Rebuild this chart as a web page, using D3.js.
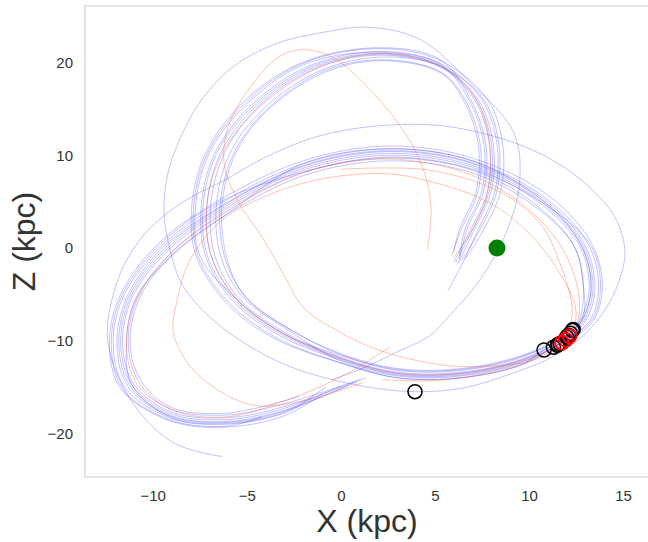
<!DOCTYPE html>
<html>
<head>
<meta charset="utf-8">
<script src="https://cdn.jsdelivr.net/npm/d3@7"></script>
<style>
  html, body { margin: 0; padding: 0; background: #ffffff; }
  svg { display: block; }
  text { font-family: "Liberation Sans", Arial, Helvetica, sans-serif; }
</style>
</head>
<body>
<svg id="chart" width="648" height="542"></svg>
<script>
// ---------------- data (kpc) ----------------
const xTicks = [-10, -5, 0, 5, 10, 15];
const zTicks = [-20, -10, 0, 10, 20];
const xLabel = "X (kpc)";
const zLabel = "Z (kpc)";

// blue orbits: each is a list of [X, Z] points
const blueOrbit1 = [[0.0,-14.9],[-3.0,-17.3],[-6.0,-18.5],[-9.0,-17.9],[-11.1,-14.8],[-11.7,-10.4],[-11.2,-5.4],[-9.3,-0.2],[-6.2,4.4],[-2.0,8.6],[2.5,10.2],[7.0,8.9],[10.7,4.9],[12.8,0.2],[13.3,-4.4],[12.8,-7.9],[12.0,-9.6],[9.6,-12.1],[6.4,-13.5],[3.0,-13.5],[0.0,-11.9],[-3.0,-9.3],[-5.5,-5.6],[-6.9,-0.8],[-7.1,5.0],[-6.3,10.6],[-4.3,15.7],[-1.3,19.6],[2.2,20.9],[5.3,19.6],[7.2,16.0],[8.0,11.2],[7.9,6.2],[7.0,2.0],[6.1,-1.6]];
const blueOrbit2 = [[-1.5,-16.2],[-3.0,-17.8],[-6.0,-19.0],[-9.0,-18.4],[-11.5,-15.0],[-12.1,-10.4],[-11.6,-5.4],[-9.6,0.1],[-6.4,4.8],[-2.0,9.1],[2.5,10.7],[7.0,9.4],[11.0,5.2],[13.2,0.2],[13.7,-4.4],[13.2,-7.9],[11.5,-10.5],[9.6,-12.4],[6.4,-13.8],[3.0,-13.8],[0.0,-12.2],[-2.7,-9.0],[-5.2,-5.3],[-6.4,-0.8],[-6.6,5.0],[-5.8,10.6],[-3.9,15.4],[-1.0,19.2],[2.2,20.6],[5.3,19.6],[7.6,16.0],[8.4,11.2],[8.3,6.2],[7.4,2.0],[6.4,-1.4]];
const blueOrbit3 = [[1.0,-14.2],[-3.0,-16.8],[-6.0,-18.0],[-9.0,-17.4],[-10.7,-14.6],[-11.3,-10.4],[-10.8,-5.4],[-9.0,-0.5],[-6.0,4.0],[-2.0,8.1],[2.5,9.7],[7.0,8.4],[10.4,4.6],[12.4,0.2],[12.9,-4.4],[12.7,-7.6],[12.3,-8.9],[9.6,-11.8],[6.4,-13.2],[3.0,-13.2],[0.0,-11.6],[-3.0,-9.3],[-5.5,-5.6],[-7.5,-0.8],[-7.7,5.0],[-6.9,10.6],[-4.7,16.1],[-1.7,20.0],[2.2,21.1],[5.3,19.8],[6.8,16.0],[7.6,11.2],[7.5,6.2],[6.6,2.0],[6.3,-0.8]];
const blueOrbit4 = [[-4.2,-18.2],[-6.0,-19.2],[-9.0,-18.6],[-11.6,-15.2],[-12.2,-10.4],[-11.7,-5.4],[-9.7,0.2],[-6.5,4.9],[-2.0,8.2],[2.5,9.8],[7.0,8.5],[10.7,4.9],[13.3,0.2],[13.8,-4.4],[13.3,-7.9],[11.3,-10.7],[9.6,-12.6],[6.4,-14.0],[3.0,-14.0],[0.0,-12.4],[-3.4,-9.7],[-5.9,-6.0],[-7.6,-0.8],[-7.8,5.0],[-7.0,10.6],[-4.8,16.2],[-1.8,20.1],[2.2,21.5],[5.3,20.2],[7.8,16.0],[8.6,11.2],[8.5,6.2],[7.6,2.0],[6.6,-1.2]];
const blueOrbit5 = [[0.8,-14.4],[-3.0,-17.1],[-6.0,-18.3],[-9.0,-17.7],[-11.0,-14.7],[-11.6,-10.4],[-11.1,-5.4],[-9.2,-0.3],[-6.1,4.3],[-2.0,8.4],[2.5,10.0],[7.0,8.7],[10.6,4.8],[12.7,0.2],[13.2,-4.4],[12.7,-7.9],[12.1,-9.4],[9.6,-12.0],[6.4,-13.4],[3.0,-13.4],[0.0,-11.8],[-2.9,-9.2],[-5.4,-5.5],[-6.7,-0.8],[-6.9,5.0],[-6.1,10.6],[-4.2,15.6],[-1.2,19.5],[2.2,20.8],[5.3,19.5],[7.1,16.0],[7.9,11.2],[7.8,6.2],[6.9,2.0],[6.0,-1.5]];
const blueOrbit6 = [[-1.0,-15.8],[-3.0,-18.1],[-6.0,-19.3],[-9.0,-18.7],[-11.7,-15.2],[-12.3,-10.4],[-11.8,-5.4],[-9.8,0.3],[-6.6,5.0],[-2.0,9.4],[2.5,11.0],[7.0,9.7],[11.2,5.4],[13.4,0.2],[13.9,-4.4],[13.4,-7.9],[12.4,-9.6],[10.8,-11.0],[9.6,-12.6],[6.4,-14.0],[3.0,-14.0],[0.0,-12.4],[-3.5,-9.8],[-6.0,-6.1],[-7.7,-0.8],[-7.9,5.0],[-7.1,10.6],[-4.9,16.3],[-1.8,20.2],[2.2,21.6],[5.3,20.3],[6.9,16.0],[7.7,11.2],[7.6,6.2],[6.7,2.0],[6.3,-1.2]];
const blueOrbit7 = [[0.4,-14.8],[-3.0,-17.5],[-6.0,-18.7],[-9.0,-18.1],[-11.2,-14.9],[-11.8,-10.4],[-11.3,-5.4],[-9.4,-0.1],[-6.3,4.5],[-2.0,8.8],[2.5,10.4],[7.0,9.1],[10.8,5.0],[12.9,0.2],[13.4,-4.4],[12.9,-7.9],[11.65,-10.3],[9.6,-12.2],[6.4,-13.6],[3.0,-13.6],[0.0,-12.0],[-3.1,-9.4],[-5.6,-5.7],[-7.1,-0.8],[-7.3,5.0],[-6.5,10.6],[-4.4,15.8],[-1.4,19.7],[2.2,21.0],[5.3,19.7],[7.3,16.0],[8.1,11.2],[8.0,6.2],[7.1,2.0],[6.2,-1.8]];
const blueOrbit8 = [[-2.2,-16.0],[-6.0,-17.8],[-9.0,-17.2],[-10.6,-14.4],[-11.2,-10.4],[-10.7,-5.4],[-8.9,-0.6],[-5.9,3.9],[-2.0,9.1],[2.5,10.7],[7.0,9.4],[10.8,5.0],[12.8,0.2],[13.3,-4.4],[12.8,-7.9],[12.2,-9.2],[9.6,-11.7],[6.4,-13.1],[3.0,-13.1],[0.0,-11.5],[-2.6,-8.9],[-5.1,-5.2],[-6.2,-0.8],[-6.4,5.0],[-5.6,10.6],[-3.8,15.2],[-0.9,19.1],[2.2,20.3],[5.3,19.0],[6.6,16.0],[7.4,11.2],[7.3,6.2],[6.4,2.0],[5.9,-0.8]];
const blueOrbit9 = [[1.3,-14.0],[-3.0,-17.6],[-6.0,-18.8],[-9.0,-18.2],[-11.3,-15.0],[-11.9,-10.4],[-11.4,-5.4],[-9.5,0.0],[-6.3,4.6],[-2.0,8.9],[2.5,10.5],[7.0,9.2],[10.9,5.1],[13.0,0.2],[13.5,-4.4],[13.0,-7.9],[11.55,-10.4],[9.6,-12.3],[6.4,-13.7],[3.0,-13.7],[0.0,-12.1],[-3.2,-9.5],[-5.7,-5.8],[-7.2,-0.8],[-7.4,5.0],[-6.6,10.6],[-4.5,15.9],[-1.5,19.8],[2.2,21.2],[5.3,19.9],[7.5,16.0],[8.3,11.2],[8.2,6.2],[7.3,2.0],[6.5,-1.5],[5.7,-4.6]];
const blueOrbit10 = [[-0.8,-15.0],[-3.0,-17.7],[-6.0,-18.9],[-9.0,-18.3],[-11.1,-14.8],[-11.4,-10.4],[-10.9,-5.4],[-8.9,-0.7],[-5.9,3.8],[-2.0,7.8],[2.5,9.4],[7.0,8.1],[10.3,4.5],[12.4,0.2],[12.9,-4.2],[12.9,-7.2],[12.35,-8.8],[9.6,-11.6],[6.4,-13.0],[3.0,-13.0],[0.0,-11.4],[-2.6,-8.9],[-5.1,-5.2],[-6.1,-0.8],[-6.3,5.0],[-5.5,10.6],[-3.7,15.2],[-0.8,19.0],[2.2,20.2],[5.3,18.9],[6.5,16.0],[7.3,11.2],[7.2,6.2],[6.3,2.0],[6.0,-0.4]];
const blueOrbit11 = [[-0.5,-14.2],[1.0,-13.1],[3.0,-11.2],[4.7,-9.5],[5.6,-7.7],[7.4,-3.4],[8.8,1.7],[9.5,7.0],[9.2,12.4],[6.9,17.8],[4.2,22.5],[1.5,23.8],[-1.1,23.2],[-3.5,22.0],[-5.7,19.6],[-7.4,16.0],[-8.5,12.0],[-9.2,8.0],[-9.4,3.8],[-9.1,0.0],[-8.5,-3.7],[-7.2,-7.0],[-5.4,-9.9],[-2.7,-12.8],[0.9,-14.8],[3.94,-15.5],[6.5,-15.1],[9.0,-13.6],[11.2,-11.8],[12.8,-9.6],[14.0,-6.8],[14.8,-3.5],[15.1,-0.3],[14.6,3.2],[13.4,6.2],[11.8,8.8],[9.8,10.9],[7.3,12.5],[4.7,13.3],[1.6,13.1],[-1.3,12.0],[-4.0,9.8],[-6.1,7.4],[-8.2,5.2],[-9.8,2.8],[-11.0,0.0],[-11.9,-3.7],[-12.4,-9.9],[-11.2,-16.3],[-8.9,-21.0],[-6.3,-22.5]];

// orange orbits
const orangeOrbit1 = [[1.2,-14.5],[-1.8,-16.4],[-4.5,-17.0],[-6.3,-15.6],[-8.0,-12.8],[-8.9,-9.1],[-8.7,-5.6],[-8.0,-1.2],[-6.3,3.0],[-3.5,6.0],[-0.6,7.6],[2.5,8.0],[4.7,7.2],[7.8,5.0],[10.0,1.6],[11.6,-2.6],[12.5,-6.8],[12.15,-9.5],[10.4,-11.9],[8.0,-13.4],[5.0,-14.3],[2.2,-14.2]];
const orangeOrbit2 = [[0.0,8.5],[4.7,8.4],[8.5,6.0],[10.6,2.6],[11.6,-1.4],[12.3,-7.0],[11.75,-10.2],[10.4,-12.0],[6.9,-12.8],[4.7,-12.4],[2.0,-11.0],[-0.3,-8.8],[-2.0,-6.4],[-3.0,-3.0],[-4.1,0.9],[-5.5,5.2],[-6.2,9.0],[-6.0,13.0],[-4.8,17.4],[-3.3,20.6],[-2.0,21.4],[-0.4,20.5],[1.4,17.4],[3.0,13.6],[4.0,10.3],[4.6,7.0],[4.8,3.8],[4.6,-0.2]];
const orangeOrbit3 = [[2.6,-10.7],[0.0,-13.9],[-3.0,-16.5],[-6.0,-18.2],[-8.8,-17.6],[-10.8,-14.8],[-11.4,-10.5],[-10.9,-5.6],[-9.0,-0.5],[-6.0,4.2],[-1.8,8.3],[2.5,9.6],[6.5,8.2],[9.6,4.8],[11.7,0.2],[12.6,-4.5],[12.6,-7.8],[11.95,-9.9],[9.6,-12.1],[6.4,-13.5],[3.0,-13.5],[0.0,-11.9],[-3.0,-9.3],[-5.5,-5.6],[-6.9,-0.8],[-7.1,5.0],[-6.2,10.6],[-4.1,15.6],[-1.0,19.6],[2.3,21.0],[5.3,19.6],[7.2,16.0],[7.9,11.2],[7.8,6.0],[7.0,2.0],[6.0,-1.0]];

const blueOrbits = [blueOrbit1, blueOrbit2, blueOrbit3, blueOrbit4, blueOrbit5, blueOrbit6, blueOrbit7, blueOrbit8, blueOrbit9, blueOrbit10, blueOrbit11];
const orangeOrbits = [orangeOrbit1, orangeOrbit2, orangeOrbit3];

// current positions
const blackX = [3.94, 10.8, 11.3, 11.5, 11.55, 11.65, 12.0, 12.1, 12.2, 12.3, 12.35];
const blackZ = [-15.5, -11.0, -10.7, -10.5, -10.4, -10.3, -9.6, -9.4, -9.2, -8.9, -8.8];
const redX = [11.75, 11.95, 12.15];
const redZ = [-10.2, -9.9, -9.5];
const sunX = [8.3];
const sunZ = [0.0];

// ---------------- drawing ----------------
const svg = d3.select("#chart");
const W = 648, H = 542;
const plot = { left: 85, top: 6, right: 649, bottom: 477 };

const x = d3.scaleLinear().domain([-13.6, 16.38]).range([plot.left, plot.right]);
const y = d3.scaleLinear().domain([-24.7, 26.1]).range([plot.bottom, plot.top]);

svg.append("rect").attr("width", W).attr("height", H).attr("fill", "#ffffff");

svg.append("defs").append("clipPath").attr("id", "clip")
  .append("rect")
  .attr("x", plot.left).attr("y", plot.top)
  .attr("width", plot.right - plot.left).attr("height", plot.bottom - plot.top);

const g = svg.append("g").attr("clip-path", "url(#clip)");

const line = d3.line()
  .x(d => x(d[0]))
  .y(d => y(d[1]))
  .curve(d3.curveCatmullRom.alpha(0.5));

g.selectAll("path.blue").data(blueOrbits).join("path")
  .attr("class", "blue")
  .attr("d", line)
  .attr("fill", "none")
  .attr("stroke", "#0000ff")
  .attr("stroke-opacity", 0.24)
  .attr("stroke-width", 1);

g.selectAll("path.orange").data(orangeOrbits).join("path")
  .attr("class", "orange")
  .attr("d", line)
  .attr("fill", "none")
  .attr("stroke", "#ff5a28")
  .attr("stroke-opacity", 0.36)
  .attr("stroke-width", 1);

g.selectAll("circle.sun").data(sunX.map((v, i) => [v, sunZ[i]])).join("circle")
  .attr("class", "sun")
  .attr("cx", d => x(d[0])).attr("cy", d => y(d[1]))
  .attr("r", 8.5)
  .attr("fill", "#008000");

g.selectAll("circle.black").data(blackX.map((v, i) => [v, blackZ[i]])).join("circle")
  .attr("class", "black")
  .attr("cx", d => x(d[0])).attr("cy", d => y(d[1]))
  .attr("r", 7)
  .attr("fill", "none")
  .attr("stroke", "#000000")
  .attr("stroke-width", 1.5);

g.selectAll("circle.red").data(redX.map((v, i) => [v, redZ[i]])).join("circle")
  .attr("class", "red")
  .attr("cx", d => x(d[0])).attr("cy", d => y(d[1]))
  .attr("r", 7)
  .attr("fill", "none")
  .attr("stroke", "#ff0000")
  .attr("stroke-width", 1.8);

// frame
svg.append("rect")
  .attr("x", plot.left).attr("y", plot.top)
  .attr("width", plot.right - plot.left).attr("height", plot.bottom - plot.top)
  .attr("fill", "none")
  .attr("stroke", "#d6d6d6")
  .attr("stroke-width", 1.25);

// axes
const xAxis = svg.append("g")
  .attr("transform", `translate(0,${plot.bottom})`)
  .call(d3.axisBottom(x).tickValues(xTicks).tickSize(0).tickPadding(13));
const yAxis = svg.append("g")
  .attr("transform", `translate(${plot.left},0)`)
  .call(d3.axisLeft(y).tickValues(zTicks).tickSize(0).tickPadding(12));

[xAxis, yAxis].forEach(a => {
  a.select(".domain").remove();
  a.selectAll("text")
    .attr("font-size", 15)
    .attr("fill", "#333333")
    .style("font-family", '"Liberation Sans", Arial, sans-serif');
});

svg.append("text")
  .attr("x", (plot.left + plot.right) / 2)
  .attr("y", 532)
  .attr("text-anchor", "middle")
  .attr("font-size", 32)
  .attr("fill", "#333333")
  .text(xLabel);

svg.append("text")
  .attr("transform", `translate(35,${(plot.top + plot.bottom) / 2}) rotate(-90)`)
  .attr("text-anchor", "middle")
  .attr("font-size", 32)
  .attr("fill", "#333333")
  .text(zLabel);
</script>
</body>
</html>
